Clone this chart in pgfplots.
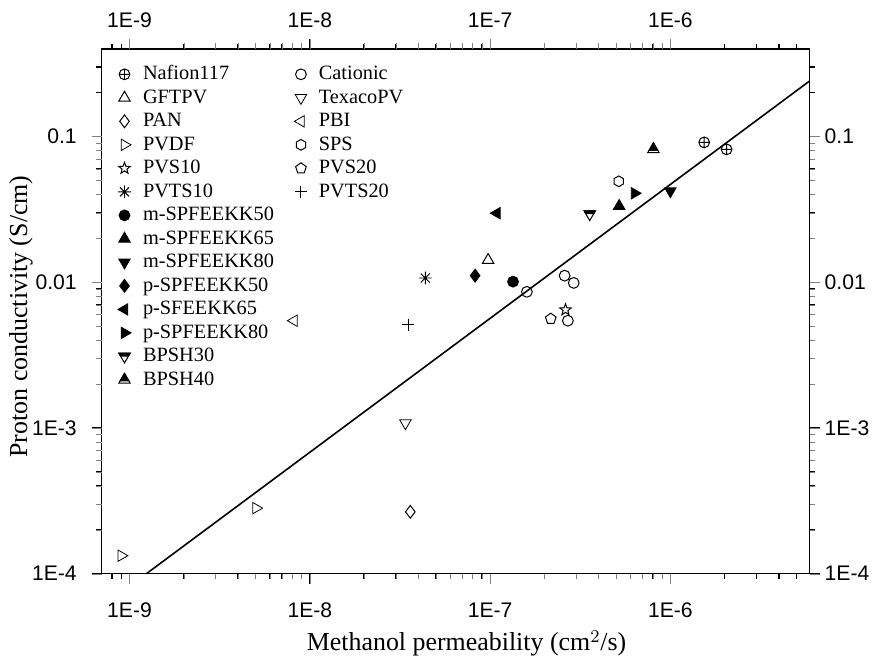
\documentclass[border=0pt]{standalone}
\usepackage{fontspec}
\setmainfont{Liberation Serif}
\newfontfamily\tickfont{Liberation Sans}
\usepackage{pgfplots}
\pgfplotsset{compat=1.18}

% extra marks
\pgfdeclareplotmark{hexagon}{%
  \pgfpathmoveto{\pgfpointpolar{90}{\pgfplotmarksize}}%
  \pgfpathlineto{\pgfpointpolar{150}{\pgfplotmarksize}}%
  \pgfpathlineto{\pgfpointpolar{210}{\pgfplotmarksize}}%
  \pgfpathlineto{\pgfpointpolar{270}{\pgfplotmarksize}}%
  \pgfpathlineto{\pgfpointpolar{330}{\pgfplotmarksize}}%
  \pgfpathlineto{\pgfpointpolar{30}{\pgfplotmarksize}}%
  \pgfpathclose\pgfusepathqstroke}
\pgfdeclareplotmark{ostar}{%
  \pgfpathmoveto{\pgfpointpolar{90}{\pgfplotmarksize}}%
  \pgfpathlineto{\pgfpointpolar{126}{0.42\pgfplotmarksize}}%
  \pgfpathlineto{\pgfpointpolar{162}{\pgfplotmarksize}}%
  \pgfpathlineto{\pgfpointpolar{198}{0.42\pgfplotmarksize}}%
  \pgfpathlineto{\pgfpointpolar{234}{\pgfplotmarksize}}%
  \pgfpathlineto{\pgfpointpolar{270}{0.42\pgfplotmarksize}}%
  \pgfpathlineto{\pgfpointpolar{306}{\pgfplotmarksize}}%
  \pgfpathlineto{\pgfpointpolar{342}{0.42\pgfplotmarksize}}%
  \pgfpathlineto{\pgfpointpolar{18}{\pgfplotmarksize}}%
  \pgfpathlineto{\pgfpointpolar{54}{0.42\pgfplotmarksize}}%
  \pgfpathclose\pgfusepathqstroke}
\pgfdeclareplotmark{ast8}{%
  \pgfpathmoveto{\pgfpointpolar{0}{\pgfplotmarksize}}\pgfpathlineto{\pgfpointpolar{180}{\pgfplotmarksize}}%
  \pgfpathmoveto{\pgfpointpolar{45}{\pgfplotmarksize}}\pgfpathlineto{\pgfpointpolar{225}{\pgfplotmarksize}}%
  \pgfpathmoveto{\pgfpointpolar{90}{\pgfplotmarksize}}\pgfpathlineto{\pgfpointpolar{270}{\pgfplotmarksize}}%
  \pgfpathmoveto{\pgfpointpolar{135}{\pgfplotmarksize}}\pgfpathlineto{\pgfpointpolar{315}{\pgfplotmarksize}}%
  \pgfusepathqstroke}
% down triangle, top band filled
\pgfdeclareplotmark{bpshdown}{%
  \pgfpathmoveto{\pgfpointpolar{150}{\pgfplotmarksize}}%
  \pgfpathlineto{\pgfpointpolar{30}{\pgfplotmarksize}}%
  \pgfpathlineto{\pgfpoint{0.606\pgfplotmarksize}{0.05\pgfplotmarksize}}%
  \pgfpathlineto{\pgfpoint{-0.606\pgfplotmarksize}{0.05\pgfplotmarksize}}%
  \pgfpathclose\pgfusepathqfillstroke
  \pgfpathmoveto{\pgfpointpolar{150}{\pgfplotmarksize}}%
  \pgfpathlineto{\pgfpointpolar{30}{\pgfplotmarksize}}%
  \pgfpathlineto{\pgfpointpolar{270}{\pgfplotmarksize}}%
  \pgfpathclose\pgfusepathqstroke}
% up triangle, bottom band left open
\pgfdeclareplotmark{bpshup}{%
  \pgfpathmoveto{\pgfpointpolar{90}{\pgfplotmarksize}}%
  \pgfpathlineto{\pgfpoint{0.664\pgfplotmarksize}{-0.15\pgfplotmarksize}}%
  \pgfpathlineto{\pgfpoint{-0.664\pgfplotmarksize}{-0.15\pgfplotmarksize}}%
  \pgfpathclose\pgfusepathqfillstroke
  \pgfpathmoveto{\pgfpointpolar{90}{\pgfplotmarksize}}%
  \pgfpathlineto{\pgfpointpolar{210}{\pgfplotmarksize}}%
  \pgfpathlineto{\pgfpointpolar{330}{\pgfplotmarksize}}%
  \pgfpathclose\pgfusepathqstroke}

\pgfplotsset{
  pt/.style={only marks, black, mark options={line width=0.5pt, draw=black, fill=white}},
  ptf/.style={only marks, black, mark options={line width=0.5pt, draw=black, fill=black}},
}

\begin{document}
\begin{tikzpicture}
\begin{axis}[
  xmode=log, ymode=log,
  scale only axis, width=355.5pt, height=263.5pt,
  xmin=7e-10, xmax=5.93e-6, ymin=1e-4, ymax=0.4,
  clip=false,
  xtick={1e-9,1e-8,1e-7,1e-6}, xticklabels={1E-9,1E-8,1E-7,1E-6},
  ytick={1e-4,1e-3,1e-2,1e-1}, yticklabels={1E-4,1E-3,0.01,0.1},
  tick pos=both, tick align=outside,
  major tick length=5pt,
  ticklabel style={font=\tickfont\fontsize{10.6}{12}\selectfont},
  xticklabel shift=6pt, yticklabel style={xshift=-4pt},
  axis line style={line width=0.7pt},
  xlabel={Methanol permeability (cm$^2$/s)},
  ylabel={Proton conductivity (S/cm)},
  every axis x label/.style={at={(axis description cs:0.5155,-0.147)}, anchor=base,
    font=\fontsize{13}{15}\selectfont},
  every axis y label/.style={at={(axis description cs:-0.105,0.49)}, rotate=90, anchor=base,
    font=\fontsize{13}{15}\selectfont},
  legend columns=2,
  legend cell align=left,
  legend style={at={(0,1)}, anchor=north west, xshift=5pt, yshift=-4.7pt,
    draw=none, fill=none,
    font=\fontsize{10.2}{12}\selectfont, row sep=0pt,
    nodes={inner ysep=0pt, text height=8.6pt, text depth=3.2pt},
    /tikz/every odd column/.append style={column sep=4pt},
    /tikz/every even column/.append style={column sep=3pt}},
]
% picture frame, same margins as the reference
\path (axis description cs:-0.1435,-0.1613) (axis description cs:1.0886,1.093);

% tick marks on all four sides, outside
\pgfplotsinvokeforeach{1e-9,1e-8,1e-7,1e-6}{
  \draw[line width=0.6pt] (axis cs:#1,1e-4) -- ++(0pt,-5pt);
  \draw[line width=0.6pt] (axis cs:#1,0.4) -- ++(0pt,5pt);
}
\pgfplotsinvokeforeach{8e-10,9e-10,2e-9,3e-9,4e-9,5e-9,6e-9,7e-9,8e-9,9e-9,
    2e-8,3e-8,4e-8,5e-8,6e-8,7e-8,8e-8,9e-8,2e-7,3e-7,4e-7,5e-7,6e-7,7e-7,8e-7,9e-7,
    2e-6,3e-6,4e-6,5e-6}{
  \draw[line width=0.6pt] (axis cs:#1,1e-4) -- ++(0pt,-2.6pt);
  \draw[line width=0.6pt] (axis cs:#1,0.4) -- ++(0pt,2.6pt);
}
\pgfplotsinvokeforeach{1e-4,1e-3,1e-2,1e-1}{
  \draw[line width=0.6pt] (axis cs:7e-10,#1) -- ++(-5pt,0pt);
  \draw[line width=0.6pt] (axis cs:5.93e-6,#1) -- ++(5pt,0pt);
}
\pgfplotsinvokeforeach{2e-4,3e-4,4e-4,5e-4,6e-4,7e-4,8e-4,9e-4,2e-3,3e-3,4e-3,5e-3,6e-3,7e-3,8e-3,9e-3,
    0.02,0.03,0.04,0.05,0.06,0.07,0.08,0.09,0.2,0.3}{
  \draw[line width=0.6pt] (axis cs:7e-10,#1) -- ++(-2.6pt,0pt);
  \draw[line width=0.6pt] (axis cs:5.93e-6,#1) -- ++(2.6pt,0pt);
}

% fit line
\addplot[black, line width=0.8pt, no marks, forget plot] coordinates {(1.24e-9,1e-4) (5.93e-6,0.241)};

% Nafion117
\addplot[pt, mark=oplus, mark size=2.7pt, forget plot] coordinates {(1.54e-6,0.0912) (2.05e-6,0.0817)};
% Cationic
\addplot[pt, mark=o, mark size=2.7pt, forget plot] coordinates {(1.60e-7,0.0086) (2.59e-7,0.0111) (2.91e-7,0.0099) (2.70e-7,0.00545)};
% GFTPV
\addplot[pt, mark=triangle, mark size=3.3pt, forget plot] coordinates {(9.75e-8,0.0142)};
% TexacoPV
\addplot[pt, mark=triangle, mark size=3.3pt, mark options={rotate=180}, forget plot] coordinates {(3.39e-8,0.00108)};
% PAN
\addplot[pt, mark=diamond, mark size=3.2pt, forget plot] coordinates {(3.61e-8,0.000266)};
% PBI
\addplot[pt, mark=triangle, mark size=3.3pt, mark options={rotate=90}, forget plot] coordinates {(8.16e-9,0.00545)};
% PVDF
\addplot[pt, mark=triangle, mark size=3.3pt, mark options={rotate=-90}, forget plot] coordinates {(9.0e-10,0.000133) (5.03e-9,0.000282)};
% SPS
\addplot[pt, mark=hexagon, mark size=2.7pt, forget plot] coordinates {(5.17e-7,0.0493)};
% PVS10
\addplot[pt, mark=ostar, mark size=3pt, forget plot] coordinates {(2.62e-7,0.00647)};
% PVS20
\addplot[pt, mark=pentagon, mark size=2.8pt, forget plot] coordinates {(2.17e-7,0.00562)};
% PVTS10
\addplot[pt, mark=ast8, mark size=3.2pt, forget plot] coordinates {(4.37e-8,0.0107)};
% PVTS20
\addplot[pt, mark=+, mark size=3pt, forget plot] coordinates {(3.52e-8,0.00512)};
% m-SPFEEKK50
\addplot[ptf, mark=*, mark size=2.7pt, forget plot] coordinates {(1.34e-7,0.0101)};
% m-SPFEEKK65
\addplot[ptf, mark=triangle*, mark size=3.3pt, forget plot] coordinates {(5.2e-7,0.0333)};
% m-SPFEEKK80
\addplot[ptf, mark=triangle*, mark size=3.3pt, mark options={rotate=180}, forget plot] coordinates {(1.0e-6,0.0422)};
% p-SPFEEKK50
\addplot[ptf, mark=diamond*, mark size=3.2pt, forget plot] coordinates {(8.26e-8,0.0111)};
% p-SFEEKK65
\addplot[ptf, mark=triangle*, mark size=3.3pt, mark options={rotate=90}, forget plot] coordinates {(1.09e-7,0.0298)};
% p-SPFEEKK80
\addplot[ptf, mark=triangle*, mark size=3.3pt, mark options={rotate=-90}, forget plot] coordinates {(6.33e-7,0.0408)};
% BPSH30
\addplot[ptf, mark=bpshdown, mark size=3.3pt, forget plot] coordinates {(3.57e-7,0.0294)};
% BPSH40
\addplot[ptf, mark=bpshup, mark size=3.3pt, forget plot] coordinates {(8.05e-7,0.0817)};

% legend, two columns filled row by row
\addlegendimage{pt, mark=oplus, mark size=2.7pt}\addlegendentry{Nafion117}
\addlegendimage{pt, mark=o, mark size=2.7pt}\addlegendentry{Cationic}
\addlegendimage{pt, mark=triangle, mark size=3.3pt}\addlegendentry{GFTPV}
\addlegendimage{pt, mark=triangle, mark size=3.3pt, mark options={rotate=180}}\addlegendentry{TexacoPV}
\addlegendimage{pt, mark=diamond, mark size=3.2pt}\addlegendentry{PAN}
\addlegendimage{pt, mark=triangle, mark size=3.3pt, mark options={rotate=90}}\addlegendentry{PBI}
\addlegendimage{pt, mark=triangle, mark size=3.3pt, mark options={rotate=-90}}\addlegendentry{PVDF}
\addlegendimage{pt, mark=hexagon, mark size=2.7pt}\addlegendentry{SPS}
\addlegendimage{pt, mark=ostar, mark size=3pt}\addlegendentry{PVS10}
\addlegendimage{pt, mark=pentagon, mark size=2.8pt}\addlegendentry{PVS20}
\addlegendimage{pt, mark=ast8, mark size=3.2pt}\addlegendentry{PVTS10}
\addlegendimage{pt, mark=+, mark size=3pt}\addlegendentry{PVTS20}
\addlegendimage{ptf, mark=*, mark size=2.7pt}\addlegendentry{m-SPFEEKK50}
\addlegendimage{empty legend}\addlegendentry{}
\addlegendimage{ptf, mark=triangle*, mark size=3.3pt}\addlegendentry{m-SPFEEKK65}
\addlegendimage{empty legend}\addlegendentry{}
\addlegendimage{ptf, mark=triangle*, mark size=3.3pt, mark options={rotate=180}}\addlegendentry{m-SPFEEKK80}
\addlegendimage{empty legend}\addlegendentry{}
\addlegendimage{ptf, mark=diamond*, mark size=3.2pt}\addlegendentry{p-SPFEEKK50}
\addlegendimage{empty legend}\addlegendentry{}
\addlegendimage{ptf, mark=triangle*, mark size=3.3pt, mark options={rotate=90}}\addlegendentry{p-SFEEKK65}
\addlegendimage{empty legend}\addlegendentry{}
\addlegendimage{ptf, mark=triangle*, mark size=3.3pt, mark options={rotate=-90}}\addlegendentry{p-SPFEEKK80}
\addlegendimage{empty legend}\addlegendentry{}
\addlegendimage{ptf, mark=bpshdown, mark size=3.3pt}\addlegendentry{BPSH30}
\addlegendimage{empty legend}\addlegendentry{}
\addlegendimage{ptf, mark=bpshup, mark size=3.3pt}\addlegendentry{BPSH40}
\end{axis}

% tick labels on top and right
\begin{axis}[
  xmode=log, ymode=log,
  scale only axis, width=355.5pt, height=263.5pt,
  xmin=7e-10, xmax=5.93e-6, ymin=1e-4, ymax=0.4,
  xtick={1e-9,1e-8,1e-7,1e-6}, xticklabels={1E-9,1E-8,1E-7,1E-6},
  ytick={1e-4,1e-3,1e-2,1e-1}, yticklabels={1E-4,1E-3,0.01,0.1},
  minor xtick={}, minor ytick={},
  xticklabel pos=upper, yticklabel pos=right,
  tick pos=both, tick align=outside, major tick length=5pt,
  ticklabel style={font=\tickfont\fontsize{10.6}{12}\selectfont},
  xticklabel style={yshift=2pt}, yticklabel style={xshift=-1pt},
  axis line style={draw=none},
]
\end{axis}
\end{tikzpicture}
\end{document}
